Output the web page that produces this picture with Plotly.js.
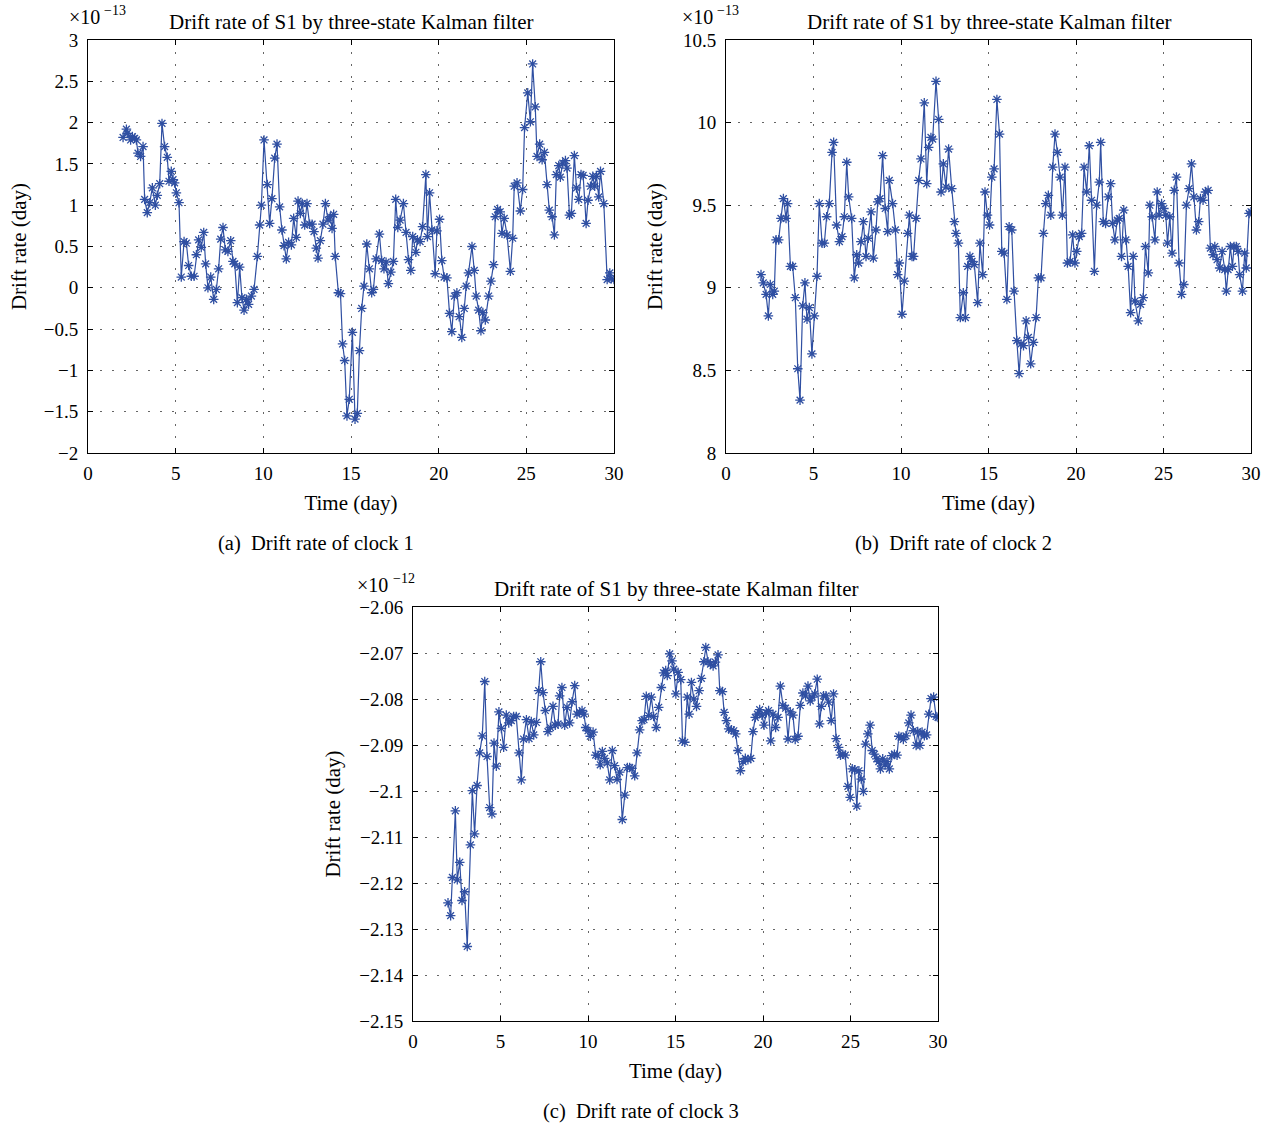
<!DOCTYPE html>
<html>
<head>
<meta charset="utf-8">
<script src="https://cdn.plot.ly/plotly-3.0.1.min.js"></script>
<style>
html,body{margin:0;padding:0;background:#fff;}
#chart{width:1275px;height:1123px;}
</style>
</head>
<body>
<div id="chart"></div>
<script>
// ---- Data ----
const time1 = [2.00,2.19,2.24,2.43,2.53,2.66,2.76,2.85,3.00,3.14,3.23,3.38,3.52,3.67,3.84,3.95,4.09,4.22,4.37,4.52,4.62,4.75,4.85,4.94,5.04,5.19,5.32,5.48,5.61,5.74,5.89,6.05,6.18,6.31,6.46,6.60,6.71,6.84,7.00,7.17,7.32,7.45,7.57,7.70,7.83,7.98,8.14,8.27,8.37,8.52,8.65,8.78,8.90,9.03,9.16,9.32,9.47,9.66,9.79,9.89,10.04,10.23,10.36,10.49,10.65,10.78,10.93,11.06,11.18,11.31,11.44,11.60,11.73,11.88,11.98,12.11,12.22,12.36,12.49,12.64,12.78,12.89,13.02,13.12,13.25,13.40,13.54,13.69,13.82,13.92,14.01,14.10,14.28,14.40,14.52,14.64,14.77,14.90,15.08,15.23,15.36,15.48,15.61,15.74,15.90,16.05,16.18,16.28,16.43,16.62,16.75,16.88,17.00,17.13,17.27,17.42,17.55,17.67,17.80,17.99,18.14,18.28,18.41,18.52,18.70,18.79,18.94,19.08,19.27,19.36,19.48,19.61,19.80,19.90,20.05,20.18,20.31,20.47,20.62,20.75,20.90,21.04,21.17,21.32,21.46,21.57,21.70,21.90,22.03,22.14,22.28,22.41,22.52,22.66,22.85,22.98,23.13,23.23,23.36,23.51,23.61,23.74,23.90,24.09,24.22,24.31,24.47,24.66,24.79,24.90,25.08,25.23,25.36,25.51,25.61,25.76,25.90,26.03,26.18,26.31,26.47,26.60,26.71,26.85,26.94,27.08,27.23,27.32,27.46,27.57,27.74,27.86,27.99,28.12,28.24,28.41,28.52,28.66,28.79,28.90,29.00,29.13,29.23,29.42,29.61,29.76,29.84,30.00];
const drift1 = [1.82,1.92,1.87,1.79,1.83,1.81,1.79,1.63,1.59,1.71,1.07,0.91,1.03,1.21,1.00,1.12,1.26,1.99,1.71,1.58,1.29,1.41,1.31,1.27,1.15,1.03,0.13,0.56,0.54,0.27,0.14,0.14,0.40,0.58,0.49,0.67,0.29,0.00,0.13,-0.14,-0.02,0.23,0.59,0.73,0.46,0.44,0.57,0.32,0.29,-0.18,0.25,-0.12,-0.27,-0.14,-0.20,-0.10,-0.02,0.38,0.76,1.00,1.79,1.25,0.78,1.08,1.57,1.74,0.98,0.70,0.51,0.35,0.55,0.52,0.84,0.61,1.05,0.90,1.02,0.76,1.02,0.77,0.77,0.68,0.48,0.36,0.57,0.77,1.02,0.82,0.86,0.72,0.89,0.38,-0.06,-0.07,-0.68,-0.88,-1.55,-1.35,-0.54,-1.59,-1.52,-0.76,-0.25,0.02,0.53,0.23,-0.06,-0.02,0.35,0.65,0.33,0.23,0.31,0.05,0.19,0.32,1.07,0.73,0.82,1.02,0.67,0.34,0.21,0.62,0.43,0.58,0.56,0.74,1.37,0.62,1.15,0.70,0.17,0.69,0.83,0.33,0.13,0.12,-0.31,-0.53,-0.10,-0.06,-0.35,-0.60,-0.25,0.02,0.18,0.50,0.21,-0.10,-0.27,-0.52,-0.30,-0.39,-0.10,0.08,0.28,0.86,0.95,0.92,0.66,0.84,0.64,0.20,0.60,1.23,1.27,0.93,1.19,1.94,2.36,2.01,2.71,2.19,1.59,1.74,1.55,1.64,1.25,0.94,0.86,0.64,1.37,1.48,1.34,1.51,1.54,1.45,0.88,0.90,1.60,1.21,1.07,1.37,1.36,0.78,1.06,1.23,1.35,1.23,1.35,1.10,1.41,1.02,0.10,0.18,0.11,0.10];

const time2 = [2.00,2.13,2.29,2.42,2.53,2.67,2.76,2.86,3.01,3.14,3.28,3.43,3.52,3.68,3.81,3.96,4.10,4.23,4.38,4.51,4.63,4.76,4.91,5.05,5.20,5.33,5.49,5.62,5.75,5.90,6.06,6.15,6.32,6.48,6.63,6.76,6.90,7.01,7.18,7.33,7.47,7.58,7.71,7.85,8.00,8.13,8.29,8.42,8.57,8.67,8.80,8.95,9.10,9.24,9.33,9.52,9.68,9.81,9.90,10.06,10.19,10.38,10.48,10.63,10.72,10.86,11.01,11.14,11.33,11.47,11.58,11.71,11.81,12.00,12.15,12.29,12.42,12.57,12.72,12.90,13.05,13.14,13.28,13.39,13.56,13.68,13.81,13.94,14.06,14.19,14.38,14.51,14.67,14.80,14.94,15.06,15.19,15.32,15.48,15.63,15.76,15.89,16.05,16.18,16.33,16.46,16.62,16.75,16.86,17.00,17.15,17.28,17.41,17.57,17.72,17.85,18.00,18.14,18.27,18.42,18.56,18.67,18.80,18.94,19.09,19.22,19.37,19.51,19.66,19.81,19.94,20.04,20.19,20.32,20.46,20.61,20.76,20.89,21.05,21.18,21.33,21.41,21.56,21.69,21.84,21.98,22.09,22.22,22.36,22.47,22.60,22.73,22.85,22.98,23.12,23.27,23.37,23.56,23.69,23.84,23.97,24.13,24.22,24.35,24.51,24.64,24.75,24.89,25.02,25.13,25.23,25.36,25.49,25.61,25.74,25.89,26.03,26.16,26.31,26.46,26.60,26.73,26.88,27.01,27.11,27.26,27.40,27.55,27.68,27.83,27.93,28.06,28.21,28.35,28.50,28.59,28.69,28.82,28.94,29.03,29.16,29.26,29.35,29.51,29.64,29.73,29.89,30.00];
const drift2 = [9.08,9.03,8.96,8.83,9.02,8.96,8.98,9.29,9.29,9.42,9.54,9.42,9.51,9.13,9.13,8.94,8.51,8.32,8.89,9.03,8.81,8.88,8.60,8.83,9.07,9.51,9.27,9.27,9.43,9.51,9.82,9.88,9.38,9.28,9.31,9.43,9.76,9.55,9.42,9.06,9.20,9.15,9.28,9.40,9.19,9.30,9.46,9.18,9.35,9.52,9.54,9.80,9.48,9.34,9.65,9.51,9.35,9.08,9.15,8.84,9.04,9.33,9.44,9.19,9.19,9.42,9.65,9.78,10.12,9.63,9.85,9.91,9.90,10.25,10.02,9.58,9.75,9.61,9.84,9.60,9.40,9.33,9.27,8.82,8.97,8.82,9.13,9.19,9.16,9.14,8.91,9.27,9.08,9.58,9.44,9.38,9.67,9.72,10.14,9.93,9.22,9.21,8.93,9.37,9.35,8.98,8.68,8.48,8.66,8.65,8.80,8.70,8.54,8.67,8.82,9.06,9.06,9.33,9.51,9.56,9.44,9.73,9.93,9.82,9.67,9.44,9.73,9.15,9.16,9.32,9.15,9.22,9.31,9.33,9.73,9.58,9.86,9.53,9.10,9.50,9.64,9.88,9.40,9.39,9.55,9.63,9.39,9.29,9.41,9.42,9.19,9.47,9.29,9.13,8.85,9.19,8.92,8.80,8.90,8.94,9.25,9.09,9.50,9.43,9.29,9.58,9.44,9.51,9.48,9.44,9.27,9.43,9.21,9.59,9.67,9.15,8.96,9.02,9.50,9.60,9.75,9.55,9.35,9.40,9.54,9.53,9.58,9.59,9.24,9.20,9.25,9.17,9.12,9.22,9.11,8.98,9.11,9.25,9.13,9.25,9.25,9.22,9.08,8.98,9.21,9.12,9.45,9.46];

const time3 = [2.00,2.15,2.25,2.42,2.53,2.67,2.80,2.95,3.10,3.28,3.39,3.52,3.66,3.81,3.96,4.10,4.23,4.38,4.51,4.63,4.76,4.91,5.05,5.18,5.33,5.47,5.62,5.75,5.90,6.06,6.19,6.32,6.48,6.63,6.76,6.90,7.05,7.18,7.30,7.43,7.56,7.71,7.85,8.00,8.13,8.29,8.38,8.51,8.67,8.80,8.95,9.09,9.24,9.37,9.52,9.66,9.77,9.87,10.00,10.13,10.29,10.44,10.57,10.70,10.82,10.95,11.10,11.24,11.39,11.52,11.66,11.81,11.96,12.10,12.25,12.38,12.51,12.67,12.80,12.95,13.09,13.20,13.33,13.47,13.62,13.75,13.90,14.04,14.19,14.32,14.44,14.53,14.67,14.80,14.90,15.02,15.15,15.30,15.40,15.53,15.67,15.78,15.91,16.05,16.20,16.35,16.48,16.62,16.73,16.86,17.00,17.15,17.28,17.43,17.53,17.68,17.78,17.91,18.04,18.19,18.33,18.44,18.57,18.71,18.86,18.99,19.14,19.30,19.43,19.56,19.68,19.81,19.94,20.06,20.19,20.32,20.44,20.57,20.72,20.86,20.99,21.14,21.29,21.43,21.56,21.71,21.84,22.00,22.13,22.28,22.43,22.57,22.70,22.81,22.95,23.10,23.23,23.33,23.46,23.60,23.75,23.90,24.03,24.18,24.32,24.43,24.56,24.70,24.85,24.98,25.10,25.23,25.36,25.48,25.61,25.74,25.86,25.99,26.12,26.24,26.37,26.50,26.62,26.71,26.84,26.98,27.09,27.22,27.36,27.51,27.66,27.76,27.89,28.02,28.17,28.33,28.46,28.59,28.75,28.84,28.97,29.09,29.22,29.35,29.47,29.60,29.75,29.89,30.00];
const drift3 = [-2.1243,-2.1271,-2.1188,-2.1043,-2.1193,-2.1155,-2.1238,-2.1219,-2.1338,-2.1117,-2.0999,-2.1093,-2.0988,-2.0917,-2.0880,-2.0762,-2.0925,-2.1036,-2.1050,-2.0896,-2.0946,-2.0828,-2.0864,-2.0905,-2.0835,-2.0852,-2.0847,-2.0838,-2.0838,-2.0917,-2.0976,-2.0887,-2.0845,-2.0886,-2.0849,-2.0878,-2.0851,-2.0782,-2.0719,-2.0786,-2.0825,-2.0871,-2.0862,-2.0816,-2.0857,-2.0854,-2.0793,-2.0775,-2.0857,-2.0818,-2.0852,-2.0806,-2.0771,-2.0833,-2.0829,-2.0825,-2.0833,-2.0862,-2.0869,-2.0881,-2.0872,-2.0922,-2.0923,-2.0943,-2.0914,-2.0929,-2.0939,-2.0976,-2.0912,-2.0945,-2.0975,-2.0959,-2.1062,-2.1009,-2.0949,-2.0949,-2.0951,-2.0967,-2.0917,-2.0867,-2.0847,-2.0845,-2.0794,-2.0836,-2.0796,-2.0838,-2.0862,-2.0818,-2.0775,-2.0743,-2.0738,-2.0749,-2.0702,-2.0717,-2.0735,-2.0789,-2.0742,-2.0758,-2.0891,-2.0894,-2.0796,-2.0833,-2.0764,-2.0800,-2.0816,-2.0782,-2.0755,-2.0719,-2.0688,-2.0719,-2.0724,-2.0728,-2.0720,-2.0704,-2.0782,-2.0784,-2.0829,-2.0847,-2.0865,-2.0867,-2.0869,-2.0876,-2.0912,-2.0956,-2.0936,-2.0929,-2.0932,-2.0929,-2.0871,-2.0840,-2.0833,-2.0823,-2.0835,-2.0857,-2.0830,-2.0825,-2.0891,-2.0833,-2.0862,-2.0840,-2.0772,-2.0814,-2.0820,-2.0887,-2.0828,-2.0835,-2.0888,-2.0881,-2.0814,-2.0787,-2.0793,-2.0772,-2.0804,-2.0796,-2.0789,-2.0757,-2.0854,-2.0816,-2.0793,-2.0793,-2.0807,-2.0847,-2.0789,-2.0886,-2.0905,-2.0922,-2.0920,-2.0922,-2.0990,-2.1014,-2.0952,-2.0954,-2.1033,-2.0956,-2.0974,-2.1001,-2.0898,-2.0876,-2.0857,-2.0912,-2.0920,-2.0930,-2.0936,-2.0952,-2.0930,-2.0943,-2.0936,-2.0952,-2.0923,-2.0920,-2.0922,-2.0881,-2.0883,-2.0888,-2.0880,-2.0852,-2.0835,-2.0869,-2.0901,-2.0871,-2.0901,-2.0872,-2.0880,-2.0878,-2.0833,-2.0799,-2.0796,-2.0838,-2.0840];

const plotTitle = "Drift rate of S1 by three-state Kalman filter";
const xLabel = "Time (day)";
const yLabel = "Drift rate (day)";
const captions = ["(a)  Drift rate of clock 1", "(b)  Drift rate of clock 2", "(c)  Drift rate of clock 3"];
const exponents = ["−13", "−13", "−12"];

// ---- Styling ----
const W = 1275, H = 1123;
const FONT = "Liberation Serif, Times New Roman, serif";
const BLUE = "#2f4fa2";
const px2x = p => p / W;
const px2y = p => 1 - p / H;

function trace(x, y, xa, ya) {
  return {
    x: x, y: y, xaxis: xa, yaxis: ya, type: "scatter", mode: "lines+markers",
    line: {color: BLUE, width: 1.2},
    marker: {symbol: "asterisk-open", size: 8, color: BLUE, line: {color: BLUE, width: 1.3}},
    showlegend: false, hoverinfo: "x+y"
  };
}

function xax(d0, d1, anchor) {
  return {
    domain: [px2x(d0), px2x(d1)], anchor: anchor, range: [0, 30], tick0: 0, dtick: 5,
    ticks: "inside", ticklen: 5, tickcolor: "#000", showline: true, linecolor: "#000", linewidth: 1,
    mirror: "ticks", showgrid: true, gridcolor: "#666", gridwidth: 1, griddash: "2px,10px",
    zeroline: false, tickfont: {family: FONT, size: 19, color: "#000"}, ticklabelstandoff: 3,
    title: {text: xLabel, font: {family: FONT, size: 21, color: "#000"}, standoff: 12},
    automargin: false, fixedrange: true
  };
}
function yax(d0, d1, anchor, r, dt, so) {
  return {
    domain: [px2y(d1), px2y(d0)], anchor: anchor, range: r, dtick: dt, tick0: r[0],
    ticks: "inside", ticklen: 5, tickcolor: "#000", showline: true, linecolor: "#000", linewidth: 1,
    mirror: "ticks", showgrid: true, gridcolor: "#666", gridwidth: 1, griddash: "2px,10px",
    zeroline: false, tickfont: {family: FONT, size: 19, color: "#000"}, ticklabelstandoff: 5,
    title: {text: yLabel, font: {family: FONT, size: 21, color: "#000"}, standoff: so},
    automargin: false, fixedrange: true
  };
}

const data = [
  trace(time1, drift1, "x", "y"),
  trace(time2, drift2, "x2", "y2"),
  trace(time3, drift3, "x3", "y3")
];

const panels = [
  {l: 88, r: 614, t: 40, b: 453, expX: 67, supX: 102, expY: 17, supY: 10},
  {l: 726, r: 1251, t: 40, b: 453, expX: 680, supX: 715, expY: 17, supY: 10},
  {l: 413, r: 938, t: 607, b: 1021, expX: 355, supX: 391, expY: 585, supY: 578}
];

const annotations = [];
panels.forEach((p, i) => {
  annotations.push({xref: "paper", yref: "paper", x: px2x((p.l + p.r) / 2), y: px2y(p.t - 18),
    xanchor: "center", yanchor: "middle", showarrow: false, text: plotTitle,
    font: {family: FONT, size: 21, color: "#000"}});
  annotations.push({xref: "paper", yref: "paper", x: px2x(p.expX), y: px2y(p.expY),
    xanchor: "left", yanchor: "middle", showarrow: false, text: "×10",
    font: {family: FONT, size: 20, color: "#000"}});
  annotations.push({xref: "paper", yref: "paper", x: px2x(p.supX), y: px2y(p.supY),
    xanchor: "left", yanchor: "middle", showarrow: false, text: exponents[i],
    font: {family: FONT, size: 14, color: "#000"}});
  annotations.push({xref: "paper", yref: "paper", x: px2x((p.l + p.r) / 2 - 35), y: px2y(p.b + 90),
    xanchor: "center", yanchor: "middle", showarrow: false, text: captions[i],
    font: {family: FONT, size: 20.5, color: "#000"}});
});

const layout = {
  width: W, height: H, margin: {l: 0, r: 0, t: 0, b: 0, pad: 0},
  paper_bgcolor: "#fff", plot_bgcolor: "#fff", showlegend: false,
  font: {family: FONT, color: "#000"},
  xaxis: xax(88, 614, "y"),
  yaxis: yax(40, 453, "x", [-2, 3], 0.5, 11),
  xaxis2: xax(726, 1251, "y2"),
  yaxis2: yax(40, 453, "x2", [8, 10.5], 0.5, 14),
  xaxis3: xax(413, 938, "y3"),
  yaxis3: yax(607, 1021, "x3", [-2.15, -2.06], 0.01, 12),
  annotations: annotations
};

Plotly.newPlot("chart", data, layout, {staticPlot: true, displayModeBar: false});
</script>
</body>
</html>
